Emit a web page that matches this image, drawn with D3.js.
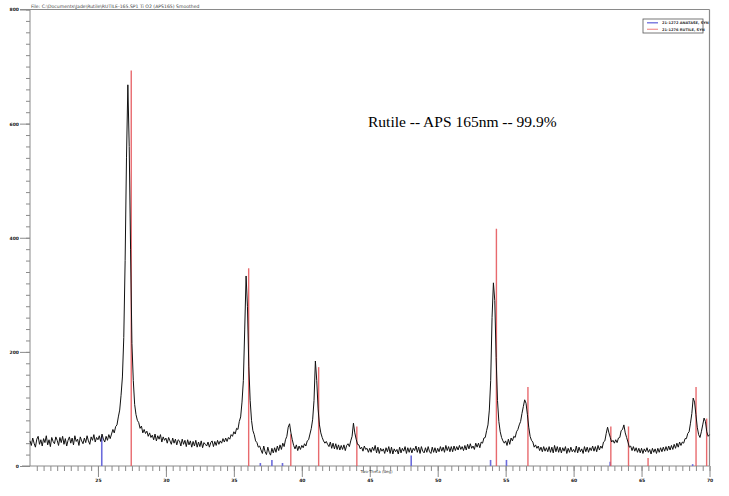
<!DOCTYPE html>
<html>
<head>
<meta charset="utf-8">
<script src="https://cdn.jsdelivr.net/npm/d3@7"></script>
<style>
body{margin:0;background:#fff;}
svg{display:block;}
</style>
</head>
<body>
<svg id="chart" width="729" height="496"></svg>
<script>
//measured scan, counts every 0.1 deg two-theta from 20 to 70
var scanStart = 20, scanStep = 0.1;
var counts = [
	44,36,49,40,33,47,52,38,46,35,
	48,41,53,37,46,34,50,43,39,51,
	45,36,50,41,52,38,48,35,45,51,
	40,49,37,53,43,47,36,51,44,39,
	49,41,53,44,38,51,45,55,42,50,
	46,53,43,56,47,42,52,45,55,48,
	56,64,58,69,72,86,98,124,156,225,
	360,540,668,560,380,215,150,108,90,80,
	76,66,70,58,64,57,61,52,58,50,
	54,46,56,44,53,47,55,42,51,45,
	49,40,50,44,38,49,40,47,37,46,
	44,35,47,38,45,34,46,37,44,33,
	43,35,45,33,42,34,44,32,41,38,
	35,42,33,41,44,34,43,36,45,38,
	44,40,48,42,49,43,50,47,55,52,
	60,56,66,64,78,86,112,150,240,333,
	280,175,115,80,62,55,44,41,33,35,
	28,22,35,25,20,33,24,19,31,23,
	32,24,35,27,37,29,40,34,46,52,
	68,74,58,46,36,30,37,27,35,29,
	36,32,39,35,44,46,56,66,82,115,
	184,150,100,72,58,50,44,40,43,38,
	34,42,31,40,30,39,29,37,28,36,
	29,37,27,36,39,34,44,52,75,58,
	47,38,37,30,33,26,35,29,31,24,
	31,24,33,27,36,23,33,22,31,26,
	30,22,32,25,34,22,33,21,30,25,
	29,21,33,23,31,26,34,22,32,24,
	32,23,31,27,35,24,33,22,34,26,
	23,32,24,34,25,22,33,24,32,23,
	31,25,34,26,33,24,36,27,34,25,
	34,25,35,27,34,28,36,29,34,27,
	36,28,38,30,39,31,35,29,40,33,
	40,32,42,40,49,50,62,72,98,150,
	260,321,290,190,115,78,60,50,44,40,
	44,36,47,38,49,44,52,50,60,64,
	72,78,92,104,116,110,90,68,52,45,
	42,33,37,31,35,27,33,25,34,26,
	32,25,34,24,33,23,36,25,34,24,
	33,23,32,26,34,22,31,24,33,25,
	29,24,35,23,33,25,30,22,34,25,
	33,24,32,27,35,26,34,25,36,28,
	35,31,42,44,57,68,58,50,42,45,
	40,46,41,49,50,62,64,72,58,50,
	42,33,35,27,34,26,32,24,31,23,
	31,22,30,25,32,24,29,21,31,24,
	30,22,31,24,32,25,33,26,34,27,
	35,28,36,29,38,31,40,33,42,36,
	42,40,48,48,57,60,75,92,119,112,
	90,68,55,50,60,72,84,78,60,52,
	55
];

//reference patterns (two-theta, relative intensity %)
var rutileAngles = [27.45, 36.09, 39.19, 41.24, 44.05, 54.32, 56.64, 62.74, 64.04, 65.48, 69.01, 69.79];
var rutileIntens = [100, 50, 8, 25, 10, 60, 20, 10, 10, 2, 20, 12];
var anataseAngles = [25.28, 36.95, 37.80, 38.58, 48.05, 53.89, 55.06, 62.69, 68.76];
var anataseIntens = [100, 10, 20, 10, 35, 20, 20, 14, 6];
var rutileScale = 693, anataseScale = 53;

var xTickLabels = [25, 30, 35, 40, 45, 50, 55, 60, 65, 70];
var yTickLabels = [0, 200, 400, 600, 800];
var legendNames = ["21-1272 ANATASE, SYN", "21-1276 RUTILE, SYN"];
var legendColors = ["#6b6bdc", "#f29a9a"];
var fileTitle = "File: C:\\Documents\\Jade\\Rutile\\RUTILE-165.SP1 Ti O2 (APS165) Smoothed";
var note = "Rutile -- APS 165nm -- 99.9%";

var svg = d3.select("#chart");
var x = d3.scaleLinear().domain([20, 70]).range([30, 709.5]);
var y = d3.scaleLinear().domain([0, 800]).range([466, 9.5]);
var axisGray = "#8a8a8a";

//frame: top line and right edge
svg.append("line")
	.attr("x1", 20).attr("x2", x(70))
	.attr("y1", y(800)).attr("y2", y(800))
	.attr("stroke", axisGray).attr("stroke-width", 1.2);
svg.append("line")
	.attr("x1", x(70)).attr("x2", x(70))
	.attr("y1", y(800)).attr("y2", y(0))
	.attr("stroke", axisGray).attr("stroke-width", 1.2);

//left axis, minor then major
var yMinor = svg.append("g").attr("transform", "translate(30,0)")
	.call(d3.axisLeft(y).tickValues(d3.range(0, 801, 20)).tickSize(4).tickFormat(""));
var yMajor = svg.append("g").attr("transform", "translate(30,0)")
	.call(d3.axisLeft(y).tickValues(yTickLabels).tickSize(10).tickPadding(1));
yMajor.select(".domain").remove();
yMinor.select(".domain").attr("stroke", axisGray).attr("d", "M0," + y(800) + "V" + y(0));

//bottom axis
var xMinor = svg.append("g").attr("transform", "translate(0,466)")
	.call(d3.axisBottom(x).tickValues(d3.range(41, 141).map(function(d){ return d / 2; })).tickSize(5).tickFormat(""));
var xMajor = svg.append("g").attr("transform", "translate(0,466)")
	.call(d3.axisBottom(x).tickValues(xTickLabels).tickSize(11).tickPadding(2));
xMajor.select(".domain").remove();
xMinor.select(".domain").attr("stroke", axisGray).attr("d", "M22,0H" + x(70));

svg.selectAll(".tick line").attr("stroke", axisGray);
svg.selectAll(".tick text")
	.attr("font-family", "DejaVu Sans")
	.attr("font-size", 4.5)
	.attr("font-weight", "bold")
	.attr("fill", "#222");

svg.append("text")
	.attr("x", x(45.5)).attr("y", 473)
	.attr("text-anchor", "middle")
	.attr("font-family", "DejaVu Sans").attr("font-size", 4)
	.attr("fill", "#444")
	.text("Two-Theta (deg)");

//title line above the frame
svg.append("text")
	.attr("x", 31).attr("y", 7.5)
	.attr("font-family", "DejaVu Sans").attr("font-size", 4.6)
	.attr("fill", "#444")
	.text(fileTitle);

//stick patterns
svg.append("g").selectAll("line")
	.data(anataseAngles)
	.join("line")
	.attr("x1", function(d){ return x(d); })
	.attr("x2", function(d){ return x(d); })
	.attr("y1", y(0))
	.attr("y2", function(d, i){ return y(anataseIntens[i] / 100 * anataseScale); })
	.attr("stroke", legendColors[0])
	.attr("stroke-width", 1.6);

svg.append("g").selectAll("line")
	.data(rutileAngles)
	.join("line")
	.attr("x1", function(d){ return x(d); })
	.attr("x2", function(d){ return x(d); })
	.attr("y1", y(0))
	.attr("y2", function(d, i){ return y(rutileIntens[i] / 100 * rutileScale); })
	.attr("stroke", "#e65a5e")
	.attr("stroke-opacity", 0.9)
	.attr("stroke-width", 1.4);

//measured pattern
var line = d3.line()
	.x(function(d, i){ return x(scanStart + i * scanStep); })
	.y(function(d){ return y(d); });

svg.append("path")
	.datum(counts)
	.attr("d", line)
	.attr("fill", "none")
	.attr("stroke", "#111")
	.attr("stroke-width", 1);

svg.append("text")
	.attr("x", 368).attr("y", 127)
	.attr("font-family", "Liberation Serif")
	.attr("font-size", 15.5)
	.attr("fill", "#000")
	.text(note);

//legend box
var legend = svg.append("g").attr("transform", "translate(643,19)");
legend.append("rect")
	.attr("width", 60).attr("height", 14)
	.attr("fill", "#fff")
	.attr("stroke", "#555").attr("stroke-width", 0.8);
legend.selectAll(".item")
	.data(legendNames)
	.join("g")
	.attr("class", "item")
	.attr("transform", function(d, i){ return "translate(0," + (3.8 + i * 6.5) + ")"; })
	.each(function(d, i){
		var g = d3.select(this);
		g.append("line")
			.attr("x1", 4).attr("x2", 15)
			.attr("stroke", legendColors[i]).attr("stroke-width", 1.3);
		g.append("text")
			.attr("x", 19).attr("y", 1.4)
			.attr("font-family", "DejaVu Sans").attr("font-size", 3.6)
			.attr("font-weight", "bold")
			.attr("fill", "#333")
			.text(d);
	});
</script>
</body>
</html>
